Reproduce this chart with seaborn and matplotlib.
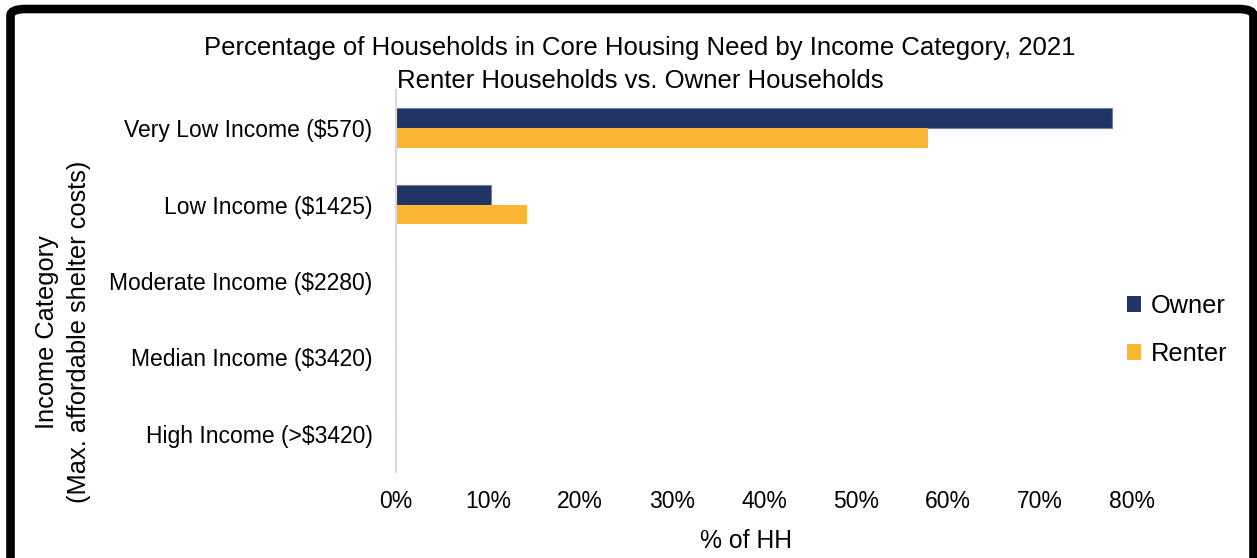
import matplotlib
matplotlib.use("Agg")
import matplotlib.pyplot as plt
import seaborn as sns
import pandas as pd
from matplotlib.patches import FancyBboxPatch
from matplotlib.ticker import PercentFormatter

categories = ["Very Low Income ($570)", "Low Income ($1425)", "Moderate Income ($2280)",
              "Median Income ($3420)", "High Income (>$3420)"]
owner = [77.8, 10.3, 0, 0, 0]
renter = [57.8, 14.2, 0, 0, 0]
series = ["Owner", "Renter"]
colors = {"Owner": "#203465", "Renter": "#FBB534"}

df = pd.DataFrame({
    "Category": categories * 2,
    "Value": owner + renter,
    "Tenure": ["Owner"] * len(categories) + ["Renter"] * len(categories),
})

sns.set_theme(style="white")
plt.rcParams["font.family"] = ["Liberation Sans", "DejaVu Sans"]
plt.rcParams["text.color"] = "#000000"

fig = plt.figure(figsize=(12.57, 5.58), dpi=100)
ax = fig.add_axes([396/1257, 1 - 472/558, (1132-396)/1257, (472-90)/558])

sns.barplot(data=df, x="Value", y="Category", hue="Tenure", order=categories,
            hue_order=series, palette=colors, width=0.52, orient="h", ax=ax,
            edgecolor="none", saturation=1, legend=True)

for p in ax.patches[:len(categories)]:
    p.set_edgecolor("#6F7FA3")
    p.set_linewidth(0.8)

ax.set_xlim(0, 80)
ax.set_ylim(4.5, -0.5)
ax.xaxis.set_major_formatter(PercentFormatter(decimals=0))
ax.set_xticks(range(0, 81, 10))
for s in ["top", "right", "bottom"]:
    ax.spines[s].set_visible(False)
ax.spines["left"].set_color("#D9D9D9")
ax.spines["left"].set_linewidth(1.5)
ax.tick_params(axis="both", length=0, labelsize=16.5, colors="#000000")
ax.tick_params(axis="y", pad=17)
ax.tick_params(axis="x", pad=13)
ax.set_xlabel("")
ax.set_ylabel("")

fig.text(746/1257, 1 - 541/558, "% of HH", ha="center", va="center", fontsize=17.8)
fig.text(63/1257, 1 - 332/558, "Income Category\n(Max. affordable shelter costs)",
         rotation=90, ha="center", va="center", fontsize=18.3, linespacing=1.4)
fig.text(640/1257, 1 - 64.5/558,
         "Percentage of Households in Core Housing Need by Income Category, 2021\nRenter Households vs. Owner Households",
         ha="center", va="center", fontsize=18.5, linespacing=1.48)

handles, labels = ax.get_legend_handles_labels()
ax.legend(handles, labels, loc="center left", bbox_to_anchor=(1104/1257, 1 - 330/558),
          bbox_transform=fig.transFigure, frameon=False, fontsize=18.3,
          handlelength=0.55, handleheight=0.55, handletextpad=0.4, labelspacing=0.95)

frame = FancyBboxPatch((10.5/1257, -0.1), (1253.5-10.5)/1257, 0.1 + (558-9)/558,
                       boxstyle="round,pad=0,rounding_size=0.012",
                       transform=fig.transFigure, fill=False, edgecolor="black",
                       linewidth=6.2, clip_on=False)
fig.patches.append(frame)

fig.savefig("out.png", dpi=100)
